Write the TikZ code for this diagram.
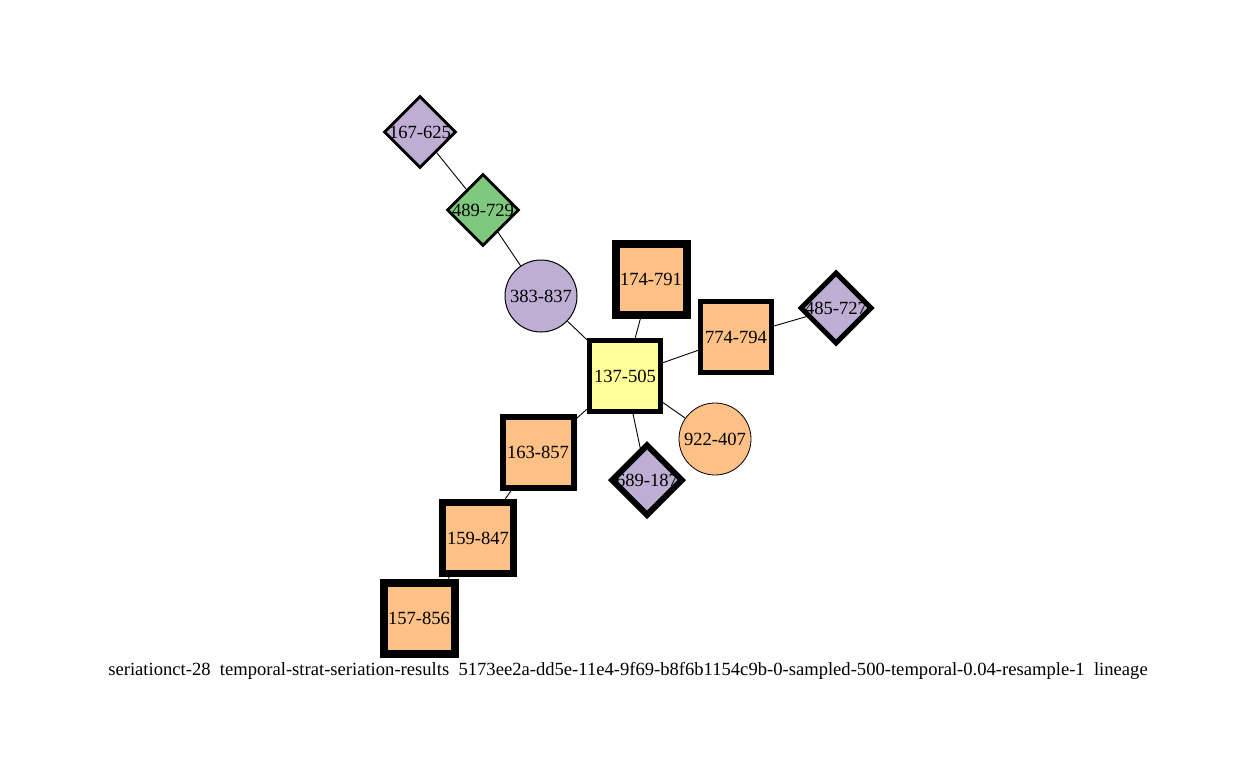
\documentclass[tikz,border=0pt]{standalone}
\usepackage{fontspec}
\setmainfont{Liberation Serif}
\usetikzlibrary{shapes.geometric}

\begin{document}
\begin{tikzpicture}[x=1pt,y=-1pt,
    every node/.style={font=\fontsize{18.6}{22}\selectfont},
    sq/.style={draw, rectangle, minimum size=71pt, inner sep=0pt},
    dia/.style={draw, diamond, minimum size=72pt, inner sep=0pt, aspect=1},
    circ/.style={draw, circle, minimum size=72pt, inner sep=0pt, line width=1pt},
    edge/.style={line width=0.9pt}]
    \useasboundingbox (0,0) rectangle (1256,780);
    \definecolor{lilac}{HTML}{BEAED4}
    \definecolor{mint}{HTML}{7FC97F}
    \definecolor{peach}{HTML}{FDC086}
    \definecolor{lemon}{HTML}{FFFF99}

    \node[dia, fill=lilac, line width=2.8pt, label=center:{167-625}] at (420,132)  (167-625) {};
    \node[dia, fill=mint, line width=2.8pt, label=center:{489-729}]  at (483,210)  (489-729) {};
    \node[circ, fill=lilac]                     at (541,296)  (383-837) {383-837};
    \node[sq, fill=peach, line width=8pt]       at (651,279)  (174-791) {174-791};
    \node[sq, fill=lemon, line width=5pt]       at (625,376)  (137-505) {137-505};
    \node[sq, fill=peach, line width=5pt]       at (736,337)  (774-794) {774-794};
    \node[dia, fill=lilac, line width=5pt, label=center:{485-727}]  at (836,308)  (485-727) {};
    \node[circ, fill=peach, line width=0.8pt]   at (715,439)  (922-407) {922-407};
    \node[dia, fill=lilac, line width=6pt, label=center:{689-187}]  at (647,480)  (689-187) {};
    \node[sq, fill=peach, line width=6pt]       at (538,452)  (163-857) {163-857};
    \node[sq, fill=peach, line width=7pt]       at (478,538)  (159-847) {159-847};
    \node[sq, fill=peach, line width=8pt]       at (419,618)  (157-856) {157-856};

    \draw[edge] (167-625) -- (489-729);
    \draw[edge] (489-729) -- (383-837);
    \draw[edge] (383-837) -- (137-505);
    \draw[edge] (137-505) -- (174-791);
    \draw[edge] (137-505) -- (774-794);
    \draw[edge] (774-794) -- (485-727);
    \draw[edge] (137-505) -- (922-407);
    \draw[edge] (137-505) -- (689-187);
    \draw[edge] (137-505) -- (163-857);
    \draw[edge] (163-857) -- (159-847);
    \draw[edge] (159-847) -- (157-856);

    \node at (628,671) (caption) {seriationct-28\ \ temporal-strat-seriation-results\ \ 5173ee2a-dd5e-11e4-9f69-b8f6b1154c9b-0-sampled-500-temporal-0.04-resample-1\ \ lineage};
\end{tikzpicture}
\end{document}
